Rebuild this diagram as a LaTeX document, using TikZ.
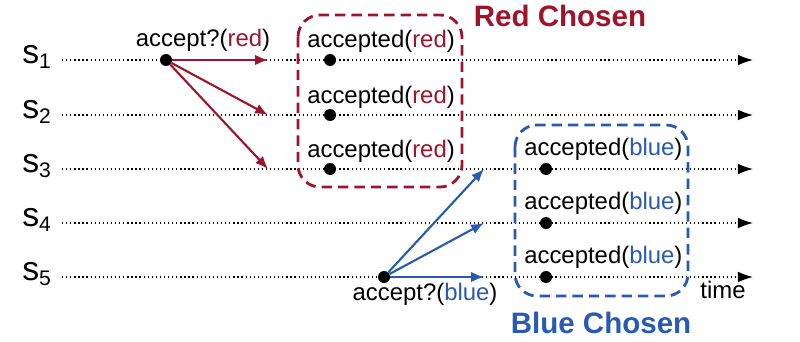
\documentclass[tikz,border=0pt]{standalone}
\usepackage{fontspec}
\setmainfont{Liberation Sans}
\usetikzlibrary{arrows.meta}
\definecolor{chosenred}{RGB}{158,20,42}
\definecolor{chosenblue}{RGB}{40,90,180}

\begin{document}
\begin{tikzpicture}[
    x=0.025cm, y=-0.025cm,
    font=\fontsize{17}{20}\selectfont,
    proc/.style={anchor=base west, inner sep=0pt},
    timeline/.style={dotted, line width=0.9pt, -{Latex[length=3.8mm, width=2.7mm]}},
    event/.style={circle, fill=black, inner sep=0pt, minimum size=0.3cm},
    lbl/.style={anchor=base west, inner sep=0pt},
    msg/.style={anchor=base, inner sep=0pt},
    redarr/.style={-{Latex[length=3.2mm, width=2.6mm]}, line width=1.5pt, draw=chosenred},
    bluearr/.style={-{Latex[length=3.2mm, width=2.6mm]}, line width=1.5pt, draw=chosenblue},
    setbox/.style={dash pattern=on 0.26cm off 0.15cm, line width=2pt, rounded corners=0.55cm},
    title/.style={anchor=base, inner sep=0pt, font=\fontsize{21}{24}\selectfont\bfseries}
  ]
    \useasboundingbox (0,0) rectangle (800,341);

    % processes and their time lines
    \foreach \i/\y in {1/60,2/115,3/169,4/223,5/277} {
      \node[proc] (s\i) at (22,\y+3) {{\fontsize{24}{24}\selectfont s}\raisebox{-0.45ex}{\fontsize{15}{16}\selectfont \i}};
      \coordinate (a\i) at (62,\y);
      \coordinate (b\i) at (753,\y);
      \draw[timeline] (a\i) -- (b\i);
    }
    \node[msg] (time) at (723,298) {time};

    % red proposal
    \node[event] (pr) at (166,60) {};
    \node[msg] (qr) at (203,47) {accept?(\textcolor{chosenred}{red})};
    \foreach \i/\y in {1/60,2/115,3/169} {
      \coordinate (tr\i) at (268,\y);
      \draw[redarr] (pr) -- (tr\i);
      \node[event] (ar\i) at (330,\y) {};
      \node[lbl] (lr\i) at (307,\y-12) {accepted(\textcolor{chosenred}{red})};
    }
    \draw[setbox, draw=chosenred] (298,15) rectangle (462,187);
    \node[title, text=chosenred] (redt) at (560,27) {Red Chosen};

    % blue proposal
    \node[event] (pb) at (384,277) {};
    \node[msg] (qb) at (425,300) {accept?(\textcolor{chosenblue}{blue})};
    \foreach \i/\y in {3/169,4/223,5/277} {
      \coordinate (tb\i) at (484,\y);
      \draw[bluearr] (pb) -- (tb\i);
      \node[event] (ab\i) at (546,\y) {};
      \node[lbl] (lb\i) at (524,\y-14) {accepted(\textcolor{chosenblue}{blue})};
    }
    \draw[setbox, draw=chosenblue] (515,125) rectangle (688,296);
    \node[title, text=chosenblue] (bluet) at (601,333) {Blue Chosen};
\end{tikzpicture}
\end{document}
